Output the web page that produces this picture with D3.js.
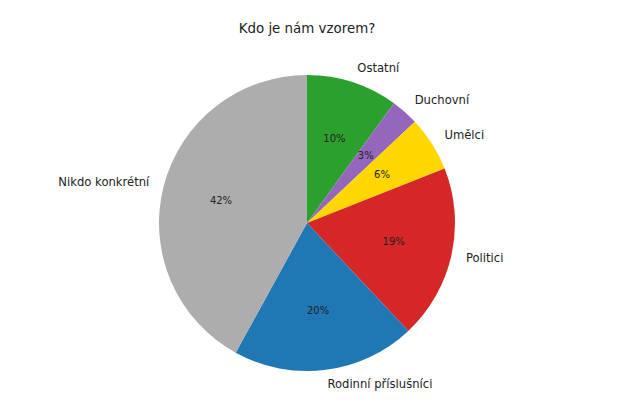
<!DOCTYPE html>
<html>
<meta charset="utf-8">
<style>
  body { margin: 0; background: #fff; }
  text { font-family: "DejaVu Sans", sans-serif; fill: #222; }
</style>
<body>
<script src="https://d3js.org/d3.v7.min.js"></script>
<div id="chart"></div>
<script>
  const categories = ["Ostatní", "Duchovní", "Umělci", "Politici", "Rodinní příslušníci", "Nikdo konkrétní"];
  const values = [10, 3, 6, 19, 20, 42];
  const colors = ["#2ca02c", "#9467bd", "#ffd700", "#d62728", "#1f77b4", "#adadad"];
  const title = "Kdo je nám vzorem?";

  const width = 640, height = 403;
  const cx = 307, cy = 223, r = 148;

  const svg = d3.select("#chart").append("svg")
    .attr("width", width)
    .attr("height", height);

  svg.append("text")
    .attr("x", cx)
    .attr("y", 29)
    .attr("text-anchor", "middle")
    .attr("dominant-baseline", "middle")
    .style("font-size", "13.4px")
    .text(title);

  const data = categories.map((c, i) => ({ name: c, value: values[i], color: colors[i] }));
  const pie = d3.pie().sort(null).value(d => d.value);
  const arcs = pie(data);
  const total = d3.sum(values);

  const arc = d3.arc().innerRadius(0).outerRadius(r);

  const g = svg.append("g").attr("transform", `translate(${cx},${cy})`);

  g.selectAll("path")
    .data(arcs)
    .enter()
    .append("path")
    .attr("d", arc)
    .style("fill", d => d.data.color);

  // matplotlib-like placement: labels at 1.1r, percentages at 0.6r
  const mid = d => (d.startAngle + d.endAngle) / 2;

  g.selectAll("text.lab")
    .data(arcs)
    .enter()
    .append("text")
    .attr("class", "lab")
    .attr("x", d => 1.1 * r * Math.sin(mid(d)))
    .attr("y", d => -1.1 * r * Math.cos(mid(d)))
    .attr("text-anchor", d => Math.sin(mid(d)) > 0 ? "start" : "end")
    .attr("dominant-baseline", "middle")
    .style("font-size", "11.6px")
    .text(d => d.data.name);

  g.selectAll("text.pct")
    .data(arcs)
    .enter()
    .append("text")
    .attr("class", "pct")
    .attr("x", d => 0.6 * r * Math.sin(mid(d)))
    .attr("y", d => -0.6 * r * Math.cos(mid(d)))
    .attr("text-anchor", "middle")
    .attr("dominant-baseline", "middle")
    .style("font-size", "10px")
    .text(d => Math.round(d.data.value / total * 100) + "%");
</script>
</body>
</html>
